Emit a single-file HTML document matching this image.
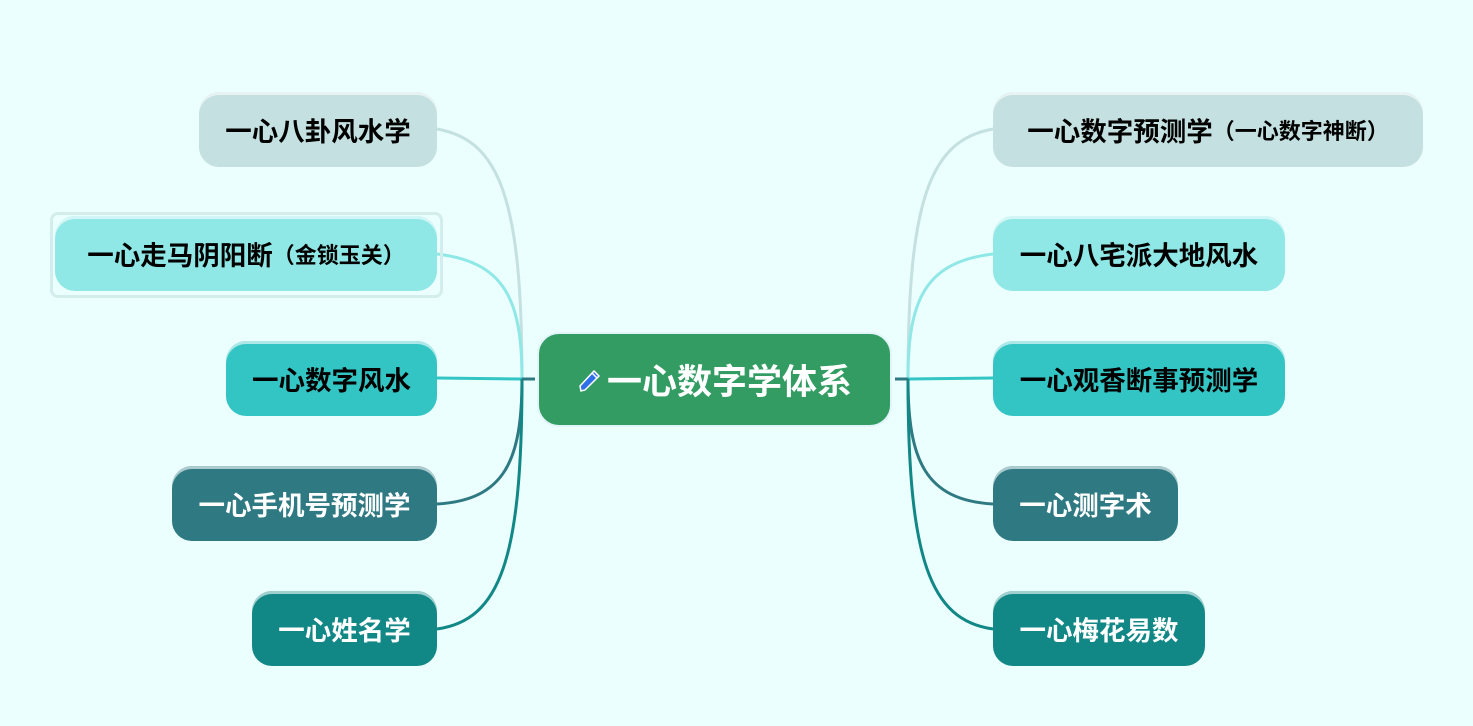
<!DOCTYPE html>
<html><head><meta charset="utf-8"><style>
body{margin:0;width:1473px;height:726px;background:#ebfffe;position:relative;overflow:hidden;font-family:"Liberation Sans","Noto Sans CJK SC",sans-serif}
.n{position:absolute;height:75px;border-radius:20px;display:flex;align-items:center;justify-content:center;font-weight:bold;font-size:26.5px;color:#000;box-shadow:0 3px 0 rgba(255,255,255,.6) inset}
.w{color:#fff}
svg{position:absolute;left:0;top:0}
</style></head><body>
<svg width="1473" height="726" fill="none" stroke-width="3">
<path d="M522 379 C522 200 500 140 437 129" stroke="#c4e0e0"/>
<path d="M522 379 C522 300 505 262 437 254" stroke="#8fe8e6"/>
<path d="M522 379 L437 378" stroke="#33c4c4"/>
<path d="M522 379 C522 460 505 500 437 504" stroke="#2f7a82"/>
<path d="M522 379 C522 560 500 620 437 629" stroke="#118786"/>
<path d="M522 379 L535 379" stroke="#2f7a82"/>
<path d="M908 379 C908 200 930 140 993 129" stroke="#c4e0e0"/>
<path d="M908 379 C908 300 925 262 993 254" stroke="#8fe8e6"/>
<path d="M908 379 L993 378" stroke="#33c4c4"/>
<path d="M908 379 C908 460 925 500 993 504" stroke="#2f7a82"/>
<path d="M908 379 C908 560 930 620 993 629" stroke="#118786"/>
<path d="M895 379 L908 379" stroke="#2f7a82"/>
</svg>
<div style="position:absolute;left:50px;top:212px;width:387px;height:80px;border:3px solid #d3ecec;border-radius:8px"></div>
<div class="n" style="left:199px;top:92px;width:238px;background:#c4e0e0">一心八卦风水学</div>
<div class="n" style="left:55px;top:216px;width:382px;background:#8fe8e6">一心走马阴阳断<span style="font-size:22px">（金锁玉关）</span></div>
<div class="n" style="left:226px;top:341px;width:211px;background:#33c4c4">一心数字风水</div>
<div class="n w" style="left:172px;top:466px;width:265px;background:#2f7a82">一心手机号预测学</div>
<div class="n w" style="left:252px;top:591px;width:185px;background:#118786">一心姓名学</div>
<div class="n" style="left:993px;top:92px;width:430px;background:#c4e0e0">一心数字预测学<span style="font-size:22px">（一心数字神断）</span></div>
<div class="n" style="left:993px;top:216px;width:292px;background:#8fe8e6">一心八宅派大地风水</div>
<div class="n" style="left:993px;top:341px;width:292px;background:#33c4c4">一心观香断事预测学</div>
<div class="n w" style="left:993px;top:466px;width:185px;background:#2f7a82">一心测字术</div>
<div class="n w" style="left:993px;top:591px;width:212px;background:#118786">一心梅花易数</div>
<div style="position:absolute;left:537px;top:332px;width:355px;height:95px;border-radius:22px;background:#339c63;border:2px solid #e0f4fa;box-sizing:border-box;display:flex;align-items:center;justify-content:center;color:#fff;font-weight:bold;font-size:35px">
<svg style="position:relative;margin-right:4px" width="26" height="26" viewBox="0 0 26 26"><path d="M4 24 L3 19 L17 4 L22 9 L8 23 Z" fill="#2f6fe8" stroke="#fff" stroke-width="1.5"/><path d="M15 6 L20 11" stroke="#fff" stroke-width="1.5"/></svg>一心数字学体系</div>
</body></html>
